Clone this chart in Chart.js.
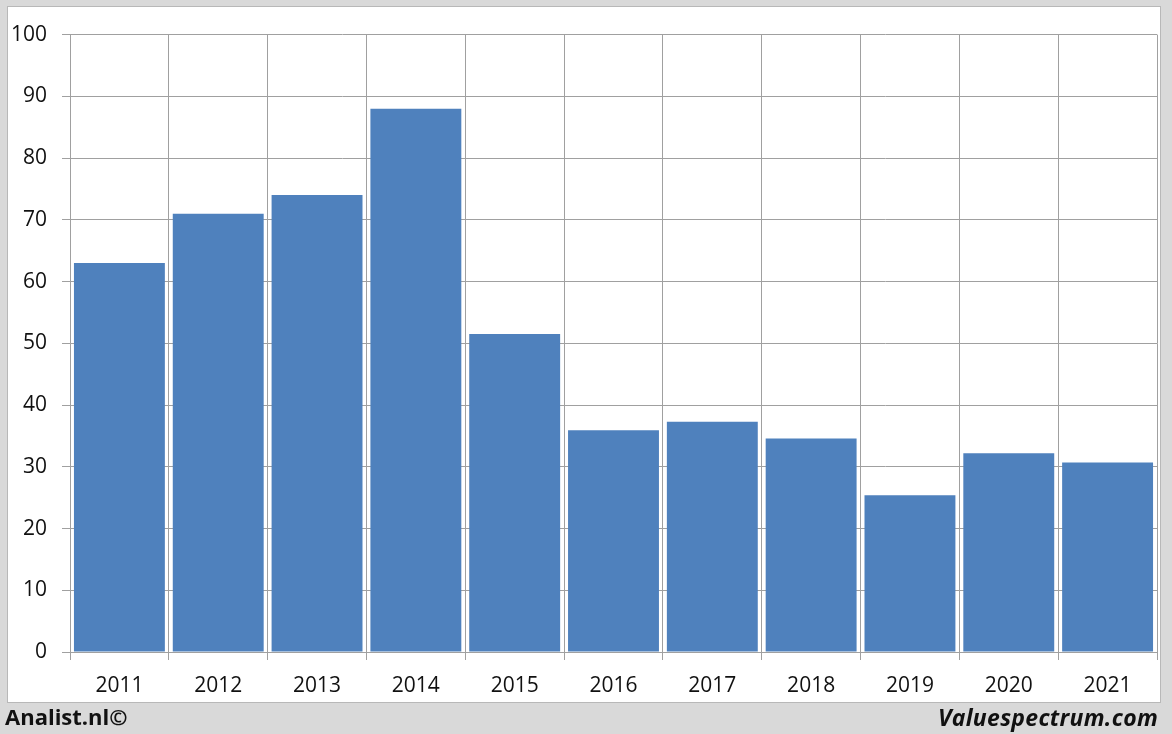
<!DOCTYPE html>
<html lang="nl">
<head>
  <meta charset="UTF-8" />
  <title>Koers per jaar</title>
  <script src="https://cdn.jsdelivr.net/npm/chart.js"></script>
  <style>
    body {
      margin: 0;
      width: 1172px;
      height: 734px;
      background: #d9d9d9;
      font-family: "Open Sans", Arial, sans-serif;
      position: relative;
      overflow: hidden;
    }
    .panel {
      position: absolute;
      left: 7px;
      top: 6px;
      width: 1152px;
      height: 695px;
      background: #fff;
      border: 1px solid #b8b8b8;
    }
    .footer-left, .footer-right {
      position: absolute;
      top: 701px;
      font-size: 22px;
      font-weight: bold;
      color: #111;
    }
    .footer-left { left: 5px; }
    .footer-right { right: 14px; font-style: italic; font-size: 23px; letter-spacing: 0.3px; }
  </style>
</head>
<body>

  <div class="panel">
    <canvas id="chart" width="1152" height="695"></canvas>
  </div>
  <div class="footer-left">Analist.nl©</div>
  <div class="footer-right">Valuespectrum.com</div>

  <script>
    const years = ['2011', '2012', '2013', '2014', '2015', '2016', '2017', '2018', '2019', '2020', '2021'];
    const values = [63, 71, 74, 88, 51.5, 35.9, 37.3, 34.6, 25.4, 32.2, 30.7];

    const gridColor = '#a0a0a0';

    new Chart(document.getElementById('chart').getContext('2d'), {
      type: 'bar',
      data: {
        labels: years,
        datasets: [{
          data: values,
          backgroundColor: '#4f81bd',
          barPercentage: 0.92,
          categoryPercentage: 1
        }]
      },
      options: {
        responsive: false,
        animation: false,
        layout: { padding: { top: 27, right: 3, left: 0, bottom: 0 } },
        plugins: { legend: { display: false }, tooltip: { enabled: false } },
        scales: {
          x: {
            grid: { offset: true, color: gridColor, tickLength: 8 },
            border: { color: gridColor },
            ticks: { color: '#111', padding: 13, font: { size: 21, family: 'Open Sans' } },
            afterFit: s => { s.height = 50; }
          },
          y: {
            min: 0,
            max: 100,
            grid: { color: gridColor, tickLength: 8 },
            border: { color: gridColor },
            ticks: { stepSize: 10, color: '#111', padding: 15, font: { size: 21, family: 'Open Sans' } },
            afterFit: s => { s.width = 62; }
          }
        }
      }
    });
  </script>
</body>
</html>
